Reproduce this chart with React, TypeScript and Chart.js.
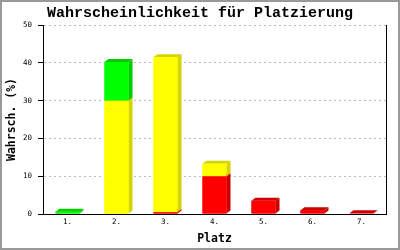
import React, { useEffect, useRef } from "react";
import { Chart, registerables } from "chart.js";

Chart.register(...registerables);

const categories = ["1.", "2.", "3.", "4.", "5.", "6.", "7."];
const redValues = [0, 0, 0.5, 10, 3.5, 1.0, 0.2];
const yellowValues = [0, 30, 41, 3.3, 0, 0, 0];
const greenValues = [0.6, 10.2, 0, 0, 0, 0, 0];
const yTicks = [0, 10, 20, 30, 40, 50];

const titleText = "Wahrscheinlichkeit für Platzierung";
const xTitle = "Platz";
const yTitle = "Wahrsch. (%)";

const depthX = 4;
const depthY = 3;

const bar3dPlugin = {
  id: "bar3d",
  beforeDraw(chart: any) {
    const ctx = chart.ctx;
    ctx.save();
    ctx.fillStyle = "#ffffff";
    ctx.fillRect(0, 0, chart.width, chart.height);
    ctx.strokeStyle = "#999999";
    ctx.lineWidth = 2;
    ctx.strokeRect(1, 1, chart.width - 2, chart.height - 2);
    ctx.restore();
  },
  afterDatasetsDraw(chart: any) {
    const ctx = chart.ctx;
    ctx.save();
    chart.data.datasets.forEach((ds: any, di: number) => {
      const meta = chart.getDatasetMeta(di);
      meta.data.forEach((bar: any, i: number) => {
        const v = ds.data[i];
        if (!v) return;
        const { x, y, base, width } = bar.getProps(["x", "y", "base", "width"], true);
        const l = x - width / 2;
        const r = x + width / 2;
        ctx.fillStyle = ds.sideColor;
        ctx.beginPath();
        ctx.moveTo(r, y);
        ctx.lineTo(r + depthX, y - depthY);
        ctx.lineTo(r + depthX, base - depthY);
        ctx.lineTo(r, base);
        ctx.closePath();
        ctx.fill();
        ctx.beginPath();
        ctx.moveTo(l, y);
        ctx.lineTo(l + depthX, y - depthY);
        ctx.lineTo(r + depthX, y - depthY);
        ctx.lineTo(r, y);
        ctx.closePath();
        ctx.fill();
        ctx.fillStyle = ds.backgroundColor;
        ctx.fillRect(l, y, width, base - y);
      });
    });
    ctx.restore();
  },
};

export default function App() {
  const ref = useRef<HTMLCanvasElement | null>(null);
  useEffect(() => {
    document.body.style.margin = "0";
    if (!ref.current) return;
    const chart = new Chart(ref.current, {
      type: "bar",
      data: {
        labels: categories,
        datasets: [
          { label: "rot", data: redValues, backgroundColor: "#ff0000", sideColor: "#cc0000" } as any,
          { label: "gelb", data: yellowValues, backgroundColor: "#ffff00", sideColor: "#d4d400" } as any,
          { label: "grün", data: greenValues, backgroundColor: "#00ff00", sideColor: "#00cc00" } as any,
        ],
      },
      options: {
        responsive: false,
        animation: false,
        layout: { padding: 0 },
        datasets: { bar: { barPercentage: 0.49, categoryPercentage: 1 } },
        plugins: {
          legend: { display: false },
          tooltip: { enabled: false },
          title: {
            display: true,
            text: titleText,
            color: "#000",
            font: { family: "Liberation Mono", size: 15, weight: "bold", lineHeight: 1.2 },
            padding: { top: 4, bottom: 3 },
          },
        },
        scales: {
          x: {
            stacked: true,
            grid: { display: false, drawTicks: false },
            border: { display: true, color: "#000", width: 1 },
            ticks: {
              color: "#000",
              padding: 4,
              font: { family: "DejaVu Sans Mono", size: 7.5 },
            },
            title: {
              display: true,
              text: xTitle,
              color: "#000",
              font: { family: "DejaVu Sans Mono", size: 11.5, weight: "bold", lineHeight: 1.2 },
              padding: { top: 0, bottom: 4 },
            },
            afterFit: (s: any) => { s.height = 36; },
          },
          y: {
            stacked: true,
            min: 0,
            max: 50,
            afterBuildTicks: (s: any) => { s.ticks = yTicks.map((v) => ({ value: v })); },
            grid: {
              color: "#bbbbbb",
              tickLength: 5,
              tickColor: "#000",
              tickBorderDash: [],
              tickWidth: 1,
            } as any,
            border: { display: true, color: "#000", width: 1, dash: [2, 3] },
            ticks: {
              color: "#000",
              padding: 6,
              font: { family: "DejaVu Sans Mono", size: 7.5 },
            },
            title: {
              display: true,
              text: yTitle,
              color: "#000",
              font: { family: "DejaVu Sans Mono", size: 11.5, weight: "bold", lineHeight: 1.2 },
              padding: { top: 5, bottom: 0 },
            },
            afterFit: (s: any) => { s.width = 43; },
          },
          y2: {
            position: "right",
            min: 0,
            max: 50,
            grid: { display: false, drawTicks: false },
            ticks: { display: false },
            border: { display: true, color: "#000", width: 1 },
            afterFit: (s: any) => { s.width = 14; },
          },
        },
      } as any,
      plugins: [bar3dPlugin],
    });
    return () => chart.destroy();
  }, []);
  return (
    <div style={{ width: 400, height: 250 }}>
      <canvas ref={ref} width={400} height={250} />
    </div>
  );
}
